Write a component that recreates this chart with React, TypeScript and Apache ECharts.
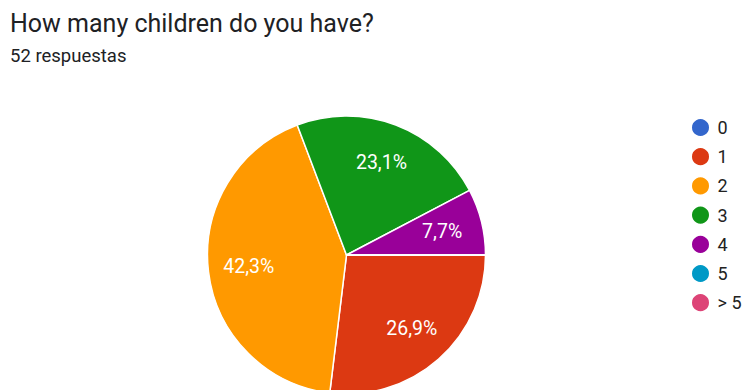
import React, { useEffect, useRef } from "react";
import * as echarts from "echarts";

const titleText = "How many children do you have?";
const subtitleText = "52 respuestas";
const categories = ["0", "1", "2", "3", "4", "5", "> 5"];
const counts = [0, 14, 22, 12, 4, 0, 0];
const colors = ["#3366cc", "#dc3912", "#ff9900", "#109618", "#990099", "#0099c6", "#dd4477"];

export default function App() {
  const ref = useRef<HTMLDivElement>(null);
  useEffect(() => {
    if (!ref.current) return;
    const chart = echarts.init(ref.current, undefined, { renderer: "svg" });
    const data = categories.map((name, i) => ({
      name,
      value: counts[i],
      itemStyle: { color: colors[i] },
    }));
    const labelData = categories.map((name, i) => ({ name, value: counts[i] }));
    const fmt = (p: any) => (p.value > 0 ? String(p.percent.toFixed(1)).replace(".", ",") + "%" : "");
    chart.setOption({
      animation: false,
      title: {
        text: titleText,
        subtext: subtitleText,
        left: 10,
        top: 7,
        padding: 0,
        itemGap: 6,
        textStyle: { fontFamily: "Roboto", fontSize: 25, fontWeight: "normal", color: "#202124", lineHeight: 32 },
        subtextStyle: { fontFamily: "Roboto", fontSize: 18.5, color: "#202124", lineHeight: 22 },
      },
      legend: {
        orient: "vertical",
        left: 685,
        top: 112,
        icon: "circle",
        itemWidth: 24,
        itemHeight: 19,
        itemGap: 8.2,
        data: categories,
        selectedMode: false,
        textStyle: { fontFamily: "Roboto", fontSize: 18, color: "#222222", lineHeight: 18 },
      },
      series: [
        {
          type: "pie",
          center: [346.5, 255],
          radius: [0, 139],
          startAngle: 0,
          clockwise: true,
          percentPrecision: 1,
          silent: true,
          label: { show: false },
          labelLine: { show: false },
          itemStyle: { borderColor: "#ffffff", borderWidth: 1.5 },
          emphasis: { disabled: true },
          data,
        },
        {
          type: "pie",
          center: [346.5, 255],
          radius: [52, 139],
          startAngle: 0,
          clockwise: true,
          percentPrecision: 1,
          silent: true,
          legendHoverLink: false,
          itemStyle: { color: "rgba(0,0,0,0)", borderWidth: 0 },
          emphasis: { disabled: true },
          label: {
            show: true,
            position: "inside",
            formatter: fmt,
            color: "#ffffff",
            fontFamily: "Roboto",
            fontSize: 19.5,
          },
          labelLine: { show: false },
          data: labelData,
        },
      ],
    });
    return () => chart.dispose();
  }, []);
  return (
    <div
      ref={ref}
      style={{ position: "fixed", left: 0, top: 0, width: 744, height: 390, background: "#ffffff" }}
    />
  );
}
